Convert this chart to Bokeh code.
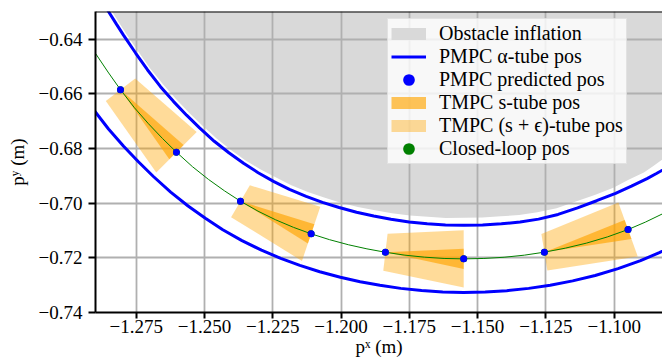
import numpy as np
from bokeh.plotting import figure
from bokeh.models import Range1d, FixedTicker, Span, Legend, LegendItem
from bokeh.embed import file_html
from bokeh.resources import INLINE

# ---- axes ----
x_lim = [-1.2899, -1.0823]
y_lim = [-0.7400, -0.6299]
x_ticks = [-1.275, -1.25, -1.225, -1.2, -1.175, -1.15, -1.125, -1.1]
x_tick_labels = ["\u22121.275", "\u22121.250", "\u22121.225", "\u22121.200",
                 "\u22121.175", "\u22121.150", "\u22121.125", "\u22121.100"]
y_ticks = [-0.74, -0.72, -0.70, -0.68, -0.66, -0.64]
y_tick_labels = ["\u22120.74", "\u22120.72", "\u22120.70", "\u22120.68", "\u22120.66", "\u22120.64"]

obst_bx = [-1.286420, -1.284114, -1.281259, -1.278734, -1.274305, -1.270022, -1.265117,
           -1.260432, -1.255637, -1.250915, -1.245571, -1.240300, -1.234956, -1.229576,
           -1.223792, -1.218192, -1.212153, -1.206186, -1.200147, -1.193851, -1.187592,
           -1.181333, -1.174781, -1.168229, -1.161640, -1.155052, -1.148280, -1.141509,
           -1.134774, -1.128112, -1.121048, -1.114020, -1.107102, -1.100294, -1.094730,
           -1.089130, -1.085909, -1.080199]
obst_by = [-0.625652, -0.629495, -0.634034, -0.637950, -0.644466, -0.650542, -0.656581,
           -0.661925, -0.666940, -0.671552, -0.676383, -0.680556, -0.684363, -0.687621,
           -0.690659, -0.693440, -0.695966, -0.697979, -0.699846, -0.701383, -0.702555,
           -0.703726, -0.704531, -0.704970, -0.705410, -0.705373, -0.705227, -0.704824,
           -0.704348, -0.703323, -0.701822, -0.699407, -0.697027, -0.694392, -0.691427,
           -0.688755, -0.686596, -0.682533]

# ---- PMPC alpha-tube boundaries ----
tube_up_x = [-1.287518, -1.285029, -1.282174, -1.279649, -1.275220, -1.270900, -1.266105,
             -1.261384, -1.256552, -1.251794, -1.246413, -1.241069, -1.235688, -1.230344,
             -1.224561, -1.218888, -1.212775, -1.206809, -1.200696, -1.194327, -1.188031,
             -1.181699, -1.175074, -1.168449, -1.161750, -1.155052, -1.148171, -1.141289,
             -1.134444, -1.127673, -1.120535, -1.113398, -1.106407, -1.099489, -1.093669,
             -1.087959, -1.084518, -1.078332]
tube_up_y = [-0.626054, -0.630081, -0.634619, -0.638536, -0.645088, -0.651201, -0.657386,
             -0.662767, -0.667818, -0.672467, -0.677372, -0.681581, -0.685424, -0.688865,
             -0.692123, -0.694941, -0.697503, -0.699699, -0.701603, -0.703323, -0.704714,
             -0.705885, -0.706874, -0.707533, -0.707972, -0.708118, -0.707972, -0.707569,
             -0.706874, -0.705849, -0.704128, -0.701713, -0.699114, -0.696442, -0.693770,
             -0.691025, -0.689158, -0.685681]
tube_lo_x = [-1.295424, -1.290593, -1.285139, -1.279612, -1.274195, -1.268704, -1.262372,
             -1.256003, -1.249671, -1.243302, -1.236274, -1.229136, -1.222072, -1.215081,
             -1.207797, -1.200257, -1.193009, -1.185762, -1.178148, -1.170498, -1.162775,
             -1.155125, -1.147219, -1.139313, -1.131297, -1.123427, -1.115191, -1.106956,
             -1.098574, -1.090338, -1.083457, -1.076758]
tube_lo_y = [-0.658997, -0.665842, -0.672870, -0.679165, -0.684875, -0.690256, -0.695966,
             -0.701054, -0.705556, -0.709729, -0.713718, -0.717196, -0.720197, -0.722759,
             -0.725102, -0.727115, -0.728726, -0.730043, -0.731178, -0.731983, -0.732496,
             -0.732642, -0.732496, -0.732020, -0.731178, -0.730007, -0.728433, -0.726456,
             -0.723967, -0.721039, -0.718111, -0.714853]

# ---- closed-loop path ----
path_x = [-1.292460, -1.289897, -1.285322, -1.280747, -1.275622, -1.270498, -1.265373,
          -1.260249, -1.254393, -1.248536, -1.242680, -1.236823, -1.230418, -1.224012,
          -1.217424, -1.210945, -1.204246, -1.197292, -1.190520, -1.183749, -1.176611,
          -1.169473, -1.162263, -1.155088, -1.147695, -1.140301, -1.132871, -1.125550,
          -1.117863, -1.110177, -1.102490, -1.094913, -1.088581, -1.082358, -1.078698]
path_y = [-0.641281, -0.645234, -0.652042, -0.658521, -0.665128, -0.670966, -0.676347,
          -0.681361, -0.686669, -0.691317, -0.695490, -0.699297, -0.702921, -0.706068,
          -0.708850, -0.711229, -0.713352, -0.715219, -0.716720, -0.717964, -0.719026,
          -0.719758, -0.720234, -0.720380, -0.720234, -0.719795, -0.719026, -0.717928,
          -0.716464, -0.714634, -0.712364, -0.709656, -0.706947, -0.703945, -0.701969]

# ---- PMPC predicted positions ----
pred_x = [-1.280747, -1.260249, -1.236823, -1.210945, -1.183749, -1.155088, -1.125550, -1.094913]
pred_y = [-0.658521, -0.681361, -0.699297, -0.711229, -0.717964, -0.720380, -0.717964, -0.709656]

# ---- TMPC tubes: segment ends (indices into predicted positions), headings, sizes ----
seg_start = [0, 2, 4, 6]
seg_end = [1, 3, 5, 7]
head_start = [-52.6, -30.5, -6.7, 9.3]   # degrees
head_end = [-45.0, -18.7, 0.0, 19.8]
eps = 0.00677
s_end = 0.0037

def cross(cx, cy, th, w):
    nx, ny = -np.sin(np.radians(th)), np.cos(np.radians(th))
    return (cx + w * nx, cy + w * ny), (cx - w * nx, cy - w * ny)

light_xs, light_ys, dark_xs, dark_ys = [], [], [], []
for i0, i1, h0, h1 in zip(seg_start, seg_end, head_start, head_end):
    a0, b0 = cross(pred_x[i0], pred_y[i0], h0, eps)
    a1, b1 = cross(pred_x[i1], pred_y[i1], h1, eps + s_end)
    light_xs.append([a0[0], a1[0], b1[0], b0[0]])
    light_ys.append([a0[1], a1[1], b1[1], b0[1]])
    c1, d1 = cross(pred_x[i1], pred_y[i1], h1, s_end)
    dark_xs.append([pred_x[i0], c1[0], d1[0]])
    dark_ys.append([pred_y[i0], c1[1], d1[1]])

# close the obstacle region above and to the right of the view
obst_x = obst_bx + [x_lim[1] + 0.01, x_lim[1] + 0.01, x_lim[0] - 0.01]
obst_y = obst_by + [obst_by[-1], y_lim[1] + 0.03, y_lim[1] + 0.03]

SERIF = "Liberation Serif"
OBST = "#d9d9d9"
ORANGE = "orange"
A_LIGHT, A_DARK = 0.4, 0.65

p = figure(width=662, height=360, x_range=Range1d(*x_lim), y_range=Range1d(*y_lim),
           output_backend="svg", toolbar_location=None,
           min_border_left=95, min_border_right=0, min_border_top=11, min_border_bottom=48)
p.outline_line_color = None
p.background_fill_color = "white"

p.patch(obst_x, obst_y, fill_color=OBST, line_color=None, level="image")
p.patches(light_xs, light_ys, fill_color=ORANGE, fill_alpha=A_LIGHT, line_color=None)
p.patches(dark_xs, dark_ys, fill_color=ORANGE, fill_alpha=A_DARK, line_color=None)
up = p.line(tube_up_x, tube_up_y, line_color="blue", line_width=3)
p.line(tube_lo_x, tube_lo_y, line_color="blue", line_width=3)
p.line(path_x, path_y, line_color="green", line_width=1)
green_pts = p.scatter(pred_x, pred_y, size=4.5, fill_color="green", line_color="green", line_width=2.5)
dots = p.scatter(pred_x, pred_y, size=4.5, fill_color="blue", line_color="blue", line_width=2.5)

# legend swatches (hidden renderers; only their legend glyphs are shown)
lg_obst = p.line(obst_bx, obst_by, line_color=OBST, line_width=12, visible=False)
lg_dark = p.line(obst_bx, obst_by, line_color=ORANGE, line_alpha=A_DARK, line_width=12, visible=False)
lg_light = p.line(obst_bx, obst_by, line_color=ORANGE, line_alpha=A_LIGHT, line_width=12, visible=False)

legend = Legend(items=[
    LegendItem(label="Obstacle inflation", renderers=[lg_obst]),
    LegendItem(label="PMPC \u03b1-tube pos", renderers=[up]),
    LegendItem(label="PMPC predicted pos", renderers=[dots]),
    LegendItem(label="TMPC s-tube pos", renderers=[lg_dark]),
    LegendItem(label="TMPC (s + \u03f5)-tube pos", renderers=[lg_light]),
    LegendItem(label="Closed-loop pos", renderers=[green_pts]),
], location=(292, 148))
legend.margin = 0
legend.padding = 3
legend.spacing = 0
legend.glyph_height = 23
legend.glyph_width = 35
legend.label_height = 23
legend.label_standoff = 13
legend.label_text_font = SERIF
legend.label_text_font_size = "20px"
legend.label_text_color = "black"
legend.background_fill_color = "white"
legend.background_fill_alpha = 0.8
legend.border_line_color = "#cccccc"
legend.border_line_width = 1
p.add_layout(legend)

p.xaxis.ticker = FixedTicker(ticks=x_ticks)
p.yaxis.ticker = FixedTicker(ticks=y_ticks)
p.xaxis.major_label_overrides = dict(zip(x_ticks, x_tick_labels))
p.yaxis.major_label_overrides = dict(zip(y_ticks, y_tick_labels))
p.grid.grid_line_color = "#b0b0b0"
p.grid.grid_line_width = 1.8

p.axis.axis_line_color = "black"
p.axis.axis_line_width = 2
p.axis.major_tick_line_color = "black"
p.axis.major_tick_line_width = 2
p.axis.major_tick_in = 0
p.axis.minor_tick_out = 0
p.axis.minor_tick_in = 0
p.axis.major_label_text_font_size = "19px"
p.axis.major_label_text_color = "black"
p.xaxis.major_label_text_font = SERIF
p.yaxis.major_label_text_font = "Times New Roman"
p.xaxis.major_tick_out = 6
p.yaxis.major_tick_out = 7
p.xaxis.major_label_standoff = 1
p.yaxis.major_label_standoff = 6

p.axis.axis_label_text_font = SERIF
p.axis.axis_label_text_font_size = "19px"
p.axis.axis_label_text_font_style = "normal"
p.axis.axis_label_text_color = "black"
p.xaxis.axis_label_standoff = 0
p.yaxis.axis_label_standoff = 8
p.xaxis.axis_label = "p\u02e3 (m)"
p.yaxis.axis_label = "p\u02b8 (m)"

p.add_layout(Span(location=y_lim[1], dimension="width", line_color="black", line_width=2))

open("out.html", "w").write(file_html(p, INLINE))
